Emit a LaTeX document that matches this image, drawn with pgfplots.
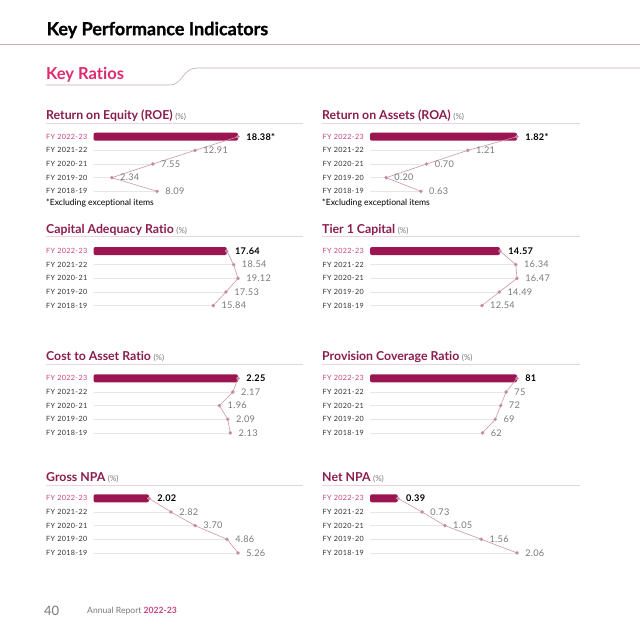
\documentclass[border=0pt]{standalone}
\usepackage{pgfplots}
\pgfplotsset{compat=1.18}
\usepackage{fontspec}
\setmainfont{Lato}[Ligatures={NoCommon,TeX}]
\definecolor{barc}{HTML}{9B1650}
\definecolor{titc}{HTML}{8C1D4F}
\definecolor{fypink}{HTML}{C8457E}
\definecolor{linec}{HTML}{CC97AE}
\definecolor{markc}{HTML}{B8819A}
\definecolor{krpink}{HTML}{E02A6F}
\definecolor{hdrline}{HTML}{C9A9B8}
\definecolor{ulc}{HTML}{EBD3DD}
\definecolor{valc}{HTML}{7A7A7A}
\definecolor{gridc}{HTML}{E6E6E6}
\definecolor{catc}{HTML}{333333}
\newcommand{\catfont}{\fontsize{7.2}{8}\selectfont\addfontfeature{LetterSpace=5}}
\newcommand{\valfont}{\fontsize{9.2}{10}\selectfont\addfontfeature{LetterSpace=3}}
\newcommand{\ptitle}[1]{{\fontsize{12.3}{14}\selectfont\bfseries\color{titc}#1} {\fontsize{8}{9}\selectfont\color{valc}(\%)}}
\pgfplotsset{kpi/.style={scale only axis, width=160pt, height=68.25pt, xmin=0,
  ymin=-0.5, ymax=4.5, y dir=reverse, axis line style={draw=none},
  xtick=\empty, ytick={0,1,2,3,4},
  yticklabels={{\color{fypink}FY 2022-23},FY 2021-22,FY 2020-21,FY 2019-20,FY 2018-19},
  major tick length=0pt,
  yticklabel style={anchor=west, xshift=-47.5pt, font=\catfont, text=catc, inner sep=0pt},
  clip=false, anchor=north west},
  stem/.style={xcomb, draw=gridc, line width=0.5pt, mark=none},
  topbar/.style={xbar, bar width=8pt, bar shift=0pt, fill=barc, draw=none, rounded corners=2pt},
  trend/.style={linec, line width=0.6pt, mark=*, mark size=1.5pt,
    mark options={fill=markc, draw=none}, nodes near coords, point meta=explicit symbolic,
    nodes near coords style={anchor=west, font=\valfont, text=valc, xshift=7pt, inner sep=1pt}}}
\begin{document}
\begin{tikzpicture}
\begin{scope}[x=1pt,y=-1pt]
\fill[white] (0,0) rectangle (640,640);
\useasboundingbox (0,0) rectangle (640,640);
% header
\node[anchor=west, inner sep=0pt] at (46.5,30) {\fontsize{18}{20}\selectfont\bfseries\addfontfeature{FakeBold=0.8}Key Performance Indicators};
\draw[hdrline, line width=0.6pt] (0,44.5) -- (640,44.5);
\node[anchor=west, inner sep=0pt, text=krpink] at (46,75) {\fontsize{16.5}{18}\selectfont\bfseries Key Ratios};
\draw[hdrline, line width=0.6pt] (46,85) -- (170,85) .. controls (182,85) and (183,68) .. (197,68) -- (640,68);
% panel titles
\node[anchor=west, inner sep=0pt] at (46,116) {\ptitle{Return on Equity (ROE)}};
\node[anchor=west, inner sep=0pt] at (322,116) {\ptitle{Return on Assets (ROA)}};
\draw[ulc, line width=0.6pt] (46,123.3) -- (303,123.3);
\draw[ulc, line width=0.6pt] (322,123.3) -- (580,123.3);
\node[anchor=west, inner sep=0pt] at (46,203.3) {\fontsize{8.6}{9}\selectfont *Excluding exceptional items};
\node[anchor=west, inner sep=0pt] at (322,203.3) {\fontsize{8.6}{9}\selectfont *Excluding exceptional items};
\node[anchor=west, inner sep=0pt] at (46,229.5) {\ptitle{Capital Adequacy Ratio}};
\node[anchor=west, inner sep=0pt] at (322,229.5) {\ptitle{Tier 1 Capital}};
\draw[ulc, line width=0.6pt] (46,236.7) -- (303,236.7);
\draw[ulc, line width=0.6pt] (322,236.7) -- (580,236.7);
\node[anchor=west, inner sep=0pt] at (46,357) {\ptitle{Cost to Asset Ratio}};
\node[anchor=west, inner sep=0pt] at (322,357) {\ptitle{Provision Coverage Ratio}};
\draw[ulc, line width=0.6pt] (46,364) -- (303,364);
\draw[ulc, line width=0.6pt] (322,364) -- (580,364);
\node[anchor=west, inner sep=0pt] at (46,477.3) {\ptitle{Gross NPA}};
\node[anchor=west, inner sep=0pt] at (322,477.3) {\ptitle{Net NPA}};
\draw[ulc, line width=0.6pt] (46,485) -- (303,485);
\draw[ulc, line width=0.6pt] (322,485) -- (580,485);
% footer
\node[anchor=west, inner sep=0pt, text=valc] at (44,611) {\fontsize{13}{14}\selectfont 40};
\node[anchor=west, inner sep=0pt, text=valc] at (87,611) {\fontsize{8.6}{9}\selectfont Annual Report {\color{fypink}\bfseries 2022-23}};
\end{scope}

% ROE
\begin{axis}[kpi, at={(93.5pt,-129.9pt)}, xmax=20.35]
\addplot[stem] coordinates {(18.38,0)(12.91,1)(7.55,2)(2.34,3)(8.09,4)};
\addplot[topbar] coordinates {(18.38,0)};
\addplot[trend] coordinates {(18.38,0)[{\color{black}\bfseries 18.38*}] (12.91,1)[12.91] (7.55,2)[7.55] (2.34,3)[2.34] (8.09,4)[8.09]};
\end{axis}
% ROA
\begin{axis}[kpi, at={(370pt,-129.9pt)}, xmax=1.981]
\addplot[stem] coordinates {(1.82,0)(1.21,1)(0.70,2)(0.20,3)(0.63,4)};
\addplot[topbar] coordinates {(1.82,0)};
\addplot[trend] coordinates {(1.82,0)[{\color{black}\bfseries 1.82*}] (1.21,1)[1.21] (0.70,2)[0.70] (0.20,3)[0.20] (0.63,4)[0.63]};
\end{axis}
% CAR
\begin{axis}[kpi, at={(93.5pt,-244.2pt)}, xmax=21.17]
\addplot[stem] coordinates {(17.64,0)(18.54,1)(19.12,2)(17.53,3)(15.84,4)};
\addplot[topbar] coordinates {(17.64,0)};
\addplot[trend] coordinates {(17.64,0)[{\color{black}\bfseries 17.64}] (18.54,1)[18.54] (19.12,2)[19.12] (17.53,3)[17.53] (15.84,4)[15.84]};
\end{axis}
% Tier 1
\begin{axis}[kpi, at={(370pt,-244.2pt)}, xmax=17.93]
\addplot[stem] coordinates {(14.57,0)(16.34,1)(16.47,2)(14.49,3)(12.54,4)};
\addplot[topbar] coordinates {(14.57,0)};
\addplot[trend] coordinates {(14.57,0)[{\color{black}\bfseries 14.57}] (16.34,1)[16.34] (16.47,2)[16.47] (14.49,3)[14.49] (12.54,4)[12.54]};
\end{axis}
% Cost to Asset
\begin{axis}[kpi, at={(93.5pt,-371.5pt)}, xmax=2.491]
\addplot[stem] coordinates {(2.25,0)(2.17,1)(1.96,2)(2.09,3)(2.13,4)};
\addplot[topbar] coordinates {(2.25,0)};
\addplot[trend] coordinates {(2.25,0)[{\color{black}\bfseries 2.25}] (2.17,1)[2.17] (1.96,2)[1.96] (2.09,3)[2.09] (2.13,4)[2.13]};
\end{axis}
% PCR
\begin{axis}[kpi, at={(370pt,-371.5pt)}, xmax=88.16]
\addplot[stem] coordinates {(81,0)(75,1)(72,2)(69,3)(62,4)};
\addplot[topbar] coordinates {(81,0)};
\addplot[trend] coordinates {(81,0)[{\color{black}\bfseries 81}] (75,1)[75] (72,2)[72] (69,3)[69] (62,4)[62]};
\end{axis}
% Gross NPA
\begin{axis}[kpi, at={(93.5pt,-491.5pt)}, xmax=5.824]
\addplot[stem] coordinates {(2.02,0)(2.82,1)(3.70,2)(4.86,3)(5.26,4)};
\addplot[topbar] coordinates {(2.02,0)};
\addplot[trend] coordinates {(2.02,0)[{\color{black}\bfseries 2.02}] (2.82,1)[2.82] (3.70,2)[3.70] (4.86,3)[4.86] (5.26,4)[5.26]};
\end{axis}
% Net NPA
\begin{axis}[kpi, at={(370pt,-491.5pt)}, xmax=2.242]
\addplot[stem] coordinates {(0.39,0)(0.73,1)(1.05,2)(1.56,3)(2.06,4)};
\addplot[topbar] coordinates {(0.39,0)};
\addplot[trend] coordinates {(0.39,0)[{\color{black}\bfseries 0.39}] (0.73,1)[0.73] (1.05,2)[1.05] (1.56,3)[1.56] (2.06,4)[2.06]};
\end{axis}
\end{tikzpicture}
\end{document}
